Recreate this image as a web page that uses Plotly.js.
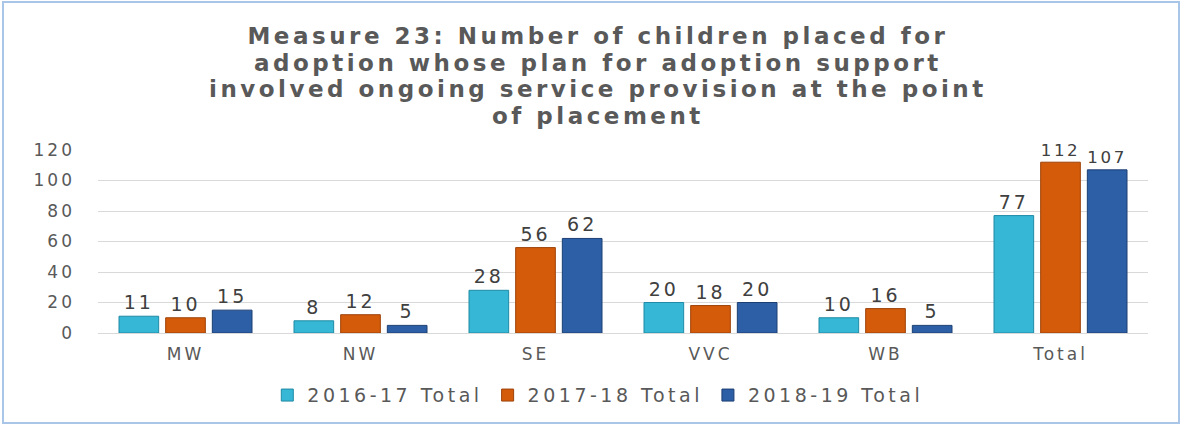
<!DOCTYPE html>
<html>
<head>
<meta charset="utf-8">
<script src="https://cdn.plot.ly/plotly-3.0.1.min.js"></script>
<style>
html,body{margin:0;padding:0;background:#fff;}
#wrap{position:relative;width:1184px;height:426px;}
#chart{width:1184px;height:426px;}
#border{position:absolute;left:2px;top:1px;width:1174px;height:419px;border:2px solid #a9c6e8;pointer-events:none;}
</style>
</head>
<body>
<div id="wrap"><div id="chart"></div><div id="border"></div></div>
<script>
var categories = ["MW", "NW", "SE", "VVC", "WB", "Total"];
var series2016 = [11, 8, 28, 20, 10, 77];
var series2017 = [10, 12, 56, 18, 16, 112];
var series2018 = [15, 5, 62, 20, 5, 107];
var seriesNames = ["2016-17 Total", "2017-18 Total", "2018-19 Total"];
var yTicks = [0, 20, 40, 60, 80, 100, 120];
var titleLines = [
  "Measure 23: Number of children placed for",
  "adoption whose plan for adoption support",
  "involved ongoing service provision at the point",
  "of placement"
];

var colors = ["#36b7d5", "#d35b0a", "#2c5fa5"];
var lineColors = ["#1f8aa5", "#9e430a", "#1c3f73"];
var allSeries = [series2016, series2017, series2018];
var txtFont = "DejaVu Sans, Liberation Sans, sans-serif";

function spaced(s, ls) {
  return '<span style="letter-spacing:' + ls + 'px">' + s + '</span>';
}

var traces = allSeries.map(function(vals, i){
  return {
    type: "bar",
    name: spaced(seriesNames[i], 3.5),
    x: categories,
    y: vals,
    text: vals.map(function(v){ return spaced(String(v), 3); }),
    textposition: "outside",
    cliponaxis: false,
    textfont: {family: txtFont, size: 19, color: "#404040"},
    marker: {color: colors[i], line: {color: lineColors[i], width: 1}}
  };
});

var titleText = titleLines.map(function(s){
  return '<span style="font-size:23px;letter-spacing:3.5px">' + s + '</span>';
}).join("<br>");

var layout = {
  width: 1184,
  height: 426,
  margin: {l: 98, r: 36, t: 150, b: 90},
  paper_bgcolor: "#ffffff",
  plot_bgcolor: "#ffffff",
  title: {
    text: titleText,
    font: {family: "DejaVu Sans, Liberation Sans, sans-serif", size: 20.5, color: "#595959", weight: "bold"},
    x: 0.505,
    xanchor: "center",
    y: 0.897,
    yanchor: "middle"
  },
  barmode: "group",
  bargap: 0.2,
  bargroupgap: 0.15,
  showlegend: true,
  legend: {
    orientation: "h",
    x: 0.476, xanchor: "center",
    y: -0.34, yanchor: "middle",
    font: {family: txtFont, size: 19, color: "#595959"},
    traceorder: "normal",
    itemwidth: 30
  },
  xaxis: {
    type: "category",
    tickvals: categories,
    ticktext: categories.map(function(c){ return spaced(c, 3); }),
    tickfont: {family: txtFont, size: 17, color: "#595959"},
    showline: true,
    linecolor: "#d9d9d9",
    linewidth: 1,
    ticks: "",
    ticklabelstandoff: 6
  },
  yaxis: {
    range: [0, 120],
    tickvals: yTicks,
    ticktext: yTicks.map(function(t){ return spaced(String(t), 3); }),
    tickfont: {family: txtFont, size: 17, color: "#595959"},
    showgrid: true,
    gridcolor: "#d9d9d9",
    gridwidth: 1,
    zeroline: false,
    showline: false,
    ticks: "",
    ticklabelstandoff: 22
  }
};

Plotly.newPlot("chart", traces, layout, {displayModeBar: false, staticPlot: true});
</script>
</body>
</html>
